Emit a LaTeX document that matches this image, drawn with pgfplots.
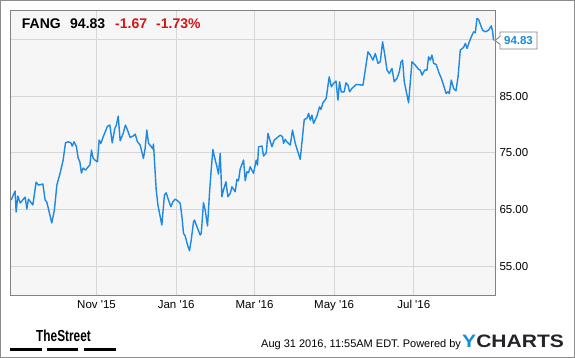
\documentclass[border=0pt]{standalone}
\usepackage{pgfplots}
\pgfplotsset{compat=1.18}
\usepackage{fontspec}
\setmainfont{Liberation Sans}[Ligatures=TeXOff]
\usetikzlibrary{shapes.callouts}
\definecolor{plotbg}{RGB}{246,246,246}
\definecolor{gridgray}{RGB}{214,214,214}
\definecolor{axisgray}{RGB}{130,130,130}
\definecolor{framegray}{RGB}{140,140,140}
\definecolor{ylineblue}{RGB}{30,136,229}
\definecolor{chgred}{RGB}{215,20,20}
\definecolor{ychblue}{RGB}{25,140,215}
\definecolor{ychdark}{RGB}{35,35,40}
\begin{document}
\begin{tikzpicture}
\path[use as bounding box] (0pt,0pt) rectangle (575pt,358pt);
\draw[framegray, line width=1.2pt] (0.6pt,0.6pt) rectangle (574.4pt,357.4pt);
\begin{axis}[
  at={(10pt,63pt)}, anchor=south west,
  width=485pt, height=285pt, scale only axis,
  xmin=-66.3, xmax=305.2, ymin=49.9, ymax=100.2,
  axis background/.style={fill=plotbg},
  axis line style={draw=axisgray, line width=0.9pt},
  xtick={0,61,121,182,243},
  xticklabels={Nov '15, Jan '16, Mar '16, May '16, Jul '16},
  ytick={55,65,75,85,95},
  yticklabels={55.00,65.00,75.00,85.00,{}},
  yticklabel pos=right,
  grid=major,
  major grid style={draw=gridgray, line width=0.8pt},
  major tick length=0pt,
  ticklabel style={font=\fontsize{11.5}{13}\selectfont, text=black, inner sep=0pt},
  yticklabel style={anchor=base west, xshift=4.3pt, yshift=-4.2pt},
  xticklabel style={anchor=base, yshift=-14pt},
]
\addplot[ylineblue, line width=1.4pt, line join=round] coordinates {
(-65.4,66.66) (-62.4,68.24) (-61.6,64.55) (-60.3,67.37) (-58.5,66.13)
(-54.7,67.18) (-53.4,65.07) (-52.2,66.83) (-48.8,65.78) (-46.3,69.83)
(-44.5,69.31) (-41.1,69.48) (-39.4,66.66) (-38.1,66.30) (-34.3,62.61)
(-32.3,64.89) (-30.4,69.31) (-27.9,71.42) (-25.6,73.71) (-23.8,76.76)
(-21.8,76.94) (-19.7,76.76) (-18.7,76.18) (-17.2,76.94) (-15.4,76.06)
(-14.1,74.07) (-12.8,73.41) (-11.6,71.42) (-10.3,72.30) (-8.5,71.95)
(-6.4,72.53) (-5.1,72.83) (-3.9,75.48) (-2.6,74.07) (-1.3,73.71)
(0.7,73.41) (2.0,77.24) (3.3,76.66) (5.1,77.82) (8.4,79.70)
(10.2,79.89) (12.0,76.76) (14.0,79.30) (15.2,79.89) (16.6,81.47)
(18.1,77.12) (20.4,78.42) (22.1,79.89) (23.7,79.01) (25.7,77.71)
(28.0,77.95) (29.6,78.30) (31.3,76.94) (33.4,76.36) (35.9,74.01)
(37.2,75.77) (38.5,79.01) (39.8,76.66) (41.6,76.18) (43.1,75.65)
(43.6,76.53) (45.7,68.42) (47.0,65.78) (50.0,62.25) (52.0,67.54)
(53.3,67.94) (55.1,66.66) (56.9,65.48) (58.5,66.35) (60.2,66.83)
(62.3,66.49) (64.1,66.07) (65.4,63.72) (66.6,60.79) (67.9,60.31)
(69.7,58.72) (71.2,57.71) (72.5,59.60) (74.3,62.83) (75.0,63.13)
(76.9,61.95) (79.4,60.48) (80.2,60.79) (81.9,66.18) (83.2,64.89)
(85.0,62.07) (86.5,67.84) (87.6,71.37) (89.1,75.60) (90.3,74.30)
(92.2,72.53) (93.4,71.25) (94.7,74.89) (96.0,67.24) (97.2,68.42)
(99.1,69.88) (100.6,67.24) (102.4,67.84) (103.7,69.00) (106.2,68.12)
(107.5,70.31) (108.7,70.06) (110.0,72.12) (112.6,73.71) (113.9,70.06)
(115.2,71.65) (116.4,71.47) (117.7,72.53) (120.2,71.37) (122.3,73.71)
(123.3,72.83) (124.1,76.06) (126.7,76.18) (127.9,74.42) (130.0,75.00)
(131.3,78.42) (134.3,76.06) (136.1,77.24) (140.7,78.12) (142.5,77.82)
(143.2,76.66) (144.5,77.36) (145.8,76.94) (148.4,76.36) (150.1,79.01)
(152.2,76.66) (156.0,73.83) (159.1,80.89) (161.1,81.07) (162.4,81.95)
(163.7,80.77) (165.0,81.64) (166.2,80.19) (168.8,81.47) (170.8,83.11)
(171.9,82.66) (173.4,83.82) (175.9,84.60) (178.2,88.41) (179.8,86.64)
(181.5,87.24) (183.4,87.65) (184.9,84.29) (186.1,87.53) (187.4,85.76)
(189.7,85.76) (191.0,87.34) (192.6,86.94) (193.8,85.76) (195.6,86.35)
(198.9,87.06) (204.1,86.94) (207.9,92.81) (209.7,92.24) (211.7,91.35)
(213.5,92.53) (215.6,90.77) (217.3,91.05) (219.1,94.58) (220.6,92.53)
(222.5,89.59) (224.2,89.00) (226.3,89.88) (228.0,87.53) (230.1,88.12)
(231.9,89.28) (233.2,91.05) (234.4,91.35) (235.7,87.53) (239.0,83.82)
(241.6,91.05) (244.1,90.47) (246.7,89.71) (248.0,89.59) (249.3,88.70)
(251.3,89.59) (253.1,89.59) (254.3,91.93) (255.6,91.35) (256.9,92.24)
(258.2,90.77) (260.2,90.59) (262.0,89.28) (264.1,88.12) (265.8,86.94)
(267.7,85.47) (269.2,85.76) (270.2,85.47) (271.7,87.82) (273.5,86.35)
(275.3,85.93) (276.9,88.41) (278.6,93.12) (281.1,93.59) (282.5,94.30)
(283.8,93.41) (285.5,94.58) (287.6,95.76) (288.8,96.34) (290.1,96.17)
(291.4,98.70) (292.6,98.53) (294.7,97.22) (295.7,96.64) (297.8,96.34)
(300.3,96.64) (302.4,97.40) (303.4,96.34) (304.1,94.83)
};
\coordinate (lastpt) at (axis cs:305.2,94.83);
\end{axis}
% header
\node[anchor=base west, inner sep=0pt, font=\fontsize{14}{16}\selectfont\bfseries] at (21.7pt,329.7pt) {FANG};
\node[anchor=base west, inner sep=0pt, font=\fontsize{14}{16}\selectfont\bfseries] at (70pt,329.7pt) {94.83};
\node[anchor=base west, inner sep=0pt, font=\fontsize{14}{16}\selectfont\bfseries, text=chgred] at (115pt,329.7pt) {-1.67};
\node[anchor=base west, inner sep=0pt, font=\fontsize{14}{16}\selectfont\bfseries, text=chgred] at (156pt,329.7pt) {-1.73\%};
% last value callout
\node[rectangle callout, draw=axisgray, fill=white, line width=0.9pt,
  minimum width=37pt, minimum height=17pt, inner sep=2pt,
  callout absolute pointer={(lastpt)}, callout pointer width=8pt,
  font=\fontsize{11.5}{13}\selectfont\bfseries, text=ychblue] at (518.5pt,317.5pt) {94.83};
% footer
\node[anchor=base west, inner sep=0pt] at (36pt,16pt) {\scalebox{0.74}[1]{\fontsize{16}{16}\selectfont\bfseries TheStreet}};
\fill[black] (10pt,7pt) rectangle (42pt,10pt);
\fill[black] (47pt,7pt) rectangle (78pt,10pt);
\fill[black] (83.5pt,7pt) rectangle (116pt,10pt);
\node[anchor=base west, inner sep=0pt, font=\fontsize{11}{13}\selectfont] at (261pt,10pt) {Aug 31 2016, 11:55AM EDT. Powered by};
\node[anchor=base west, inner sep=0pt] at (462pt,10pt) {\scalebox{1.17}[1]{\fontsize{18}{18}\selectfont\bfseries\textcolor{ychblue}{Y}\textcolor{ychdark}{CHARTS}}};
\end{tikzpicture}
\end{document}
